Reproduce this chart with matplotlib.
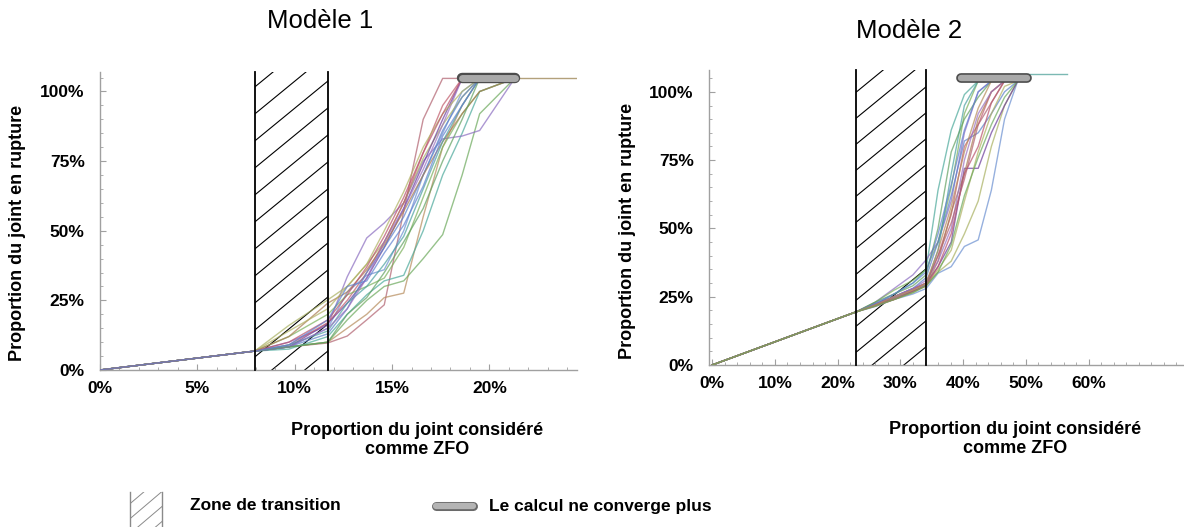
import matplotlib
matplotlib.use("Agg")
import matplotlib.pyplot as plt
from matplotlib.patches import Rectangle
from matplotlib.lines import Line2D

plt.rcParams['font.family'] = ['Liberation Sans', 'DejaVu Sans']

# ---- data -------------------------------------------------------------
titles = ["Modèle 1", "Modèle 2"]
ylabel = "Proportion du joint en rupture"
xlabel = "Proportion du joint considéré\ncomme ZFO"
legend_labels = ["Zone de transition", "Le calcul ne converge plus"]

colors = ['#b0606e', '#b58a5a', '#6aa85a', '#4aa89a', '#8a6cc0', '#6a8fd0',
          '#a8b060', '#6a3a9a', '#c05a6a', '#7ab05a', '#5a80c8', '#a87a50',
          '#4aa0a0', '#9a70c0', '#b0b060', '#60a060', '#b8506a', '#6080d0']

# Modèle 1
x1 = [0, 7.95, 9.7, 11.7, 12.7, 13.7, 14.6, 15.6, 16.6, 17.6, 18.6, 19.5, 21.3]
y1 = [
    [0, 6.8, 8.3, 9.7, 12.2, 18, 23.4, 57, 90, 104.7, 104.7, 104.7, 104.7],
    [0, 6.8, 8.3, 10, 15, 20, 26, 27.6, 55, 80, 95, 104.7, 104.7],
    [0, 6.8, 8.3, 10, 18, 25, 30, 32, 40, 48.6, 70, 92, 104.7],
    [0, 6.8, 7.5, 12, 20, 27, 32, 34, 50, 70, 85, 100, 104.7],
    [0, 6.8, 10, 16, 33.5, 47.4, 52.8, 60, 75, 83, 84, 86, 104.7],
    [0, 6.8, 8.3, 15, 28, 34, 36, 50, 70, 85, 100, 104.7, 104.7],
    [0, 6.8, 16, 25.2, 30, 38, 46, 60, 76, 88, 98, 104.7, 104.7],
    [0, 6.8, 8.3, 16.8, 24, 33, 44, 58, 74, 90, 104.7, 104.7, 104.7],
    [0, 6.8, 9, 17, 25, 35, 46, 60, 78, 95, 104.7, 104.7, 104.7],
    [0, 6.8, 12, 20, 27, 30, 33, 44, 62, 80, 92, 100, 104.7],
    [0, 6.8, 8.3, 13, 22, 35, 44, 55, 70, 86, 98, 104.7, 104.7],
    [0, 6.8, 12, 24, 28, 36, 45, 57, 70, 82, 92, 100, 104.7],
    [0, 6.8, 9, 14, 24, 30, 38, 48, 65, 82, 95, 104.7, 104.7],
    [0, 6.8, 8.3, 15, 22, 33, 46, 58, 72, 88, 104.7, 104.7, 104.7],
    [0, 6.8, 14, 22, 30, 38, 50, 64, 80, 92, 100, 104.7, 104.7],
    [0, 6.8, 8.3, 10, 20, 26, 35, 46, 58, 75, 90, 104.7, 104.7],
    [0, 6.8, 10, 18, 27, 37, 48, 62, 78, 92, 104.7, 104.7, 104.7],
    [0, 6.8, 9, 18, 30, 32, 42, 52, 66, 84, 95, 104.7, 104.7],
]
tail1_x, tail1_y = [21.3, 24.5], [104.7, 104.7]
zone1 = (7.95, 11.7)
pill1 = (18.6, 21.3, 104.7)

# Modèle 2
x2 = [0, 23, 26, 29, 32, 34.1, 36, 38.1, 40.2, 42.4, 44.5, 46.6, 48.7]
y2 = [
    [0, 19.5, 22, 26, 30, 35, 64, 86, 99, 104, 104, 104, 104],
    [0, 19.5, 23, 28, 33, 38.5, 45, 60, 85, 100, 104, 104, 104],
    [0, 19.5, 21.4, 24, 26, 28, 33.6, 36, 43.4, 45.8, 64, 90, 104],
    [0, 19.5, 22, 24, 27, 29, 34, 38, 48, 60, 80, 95, 104],
    [0, 19.5, 22.5, 25, 28, 30, 36, 45, 72, 72, 85, 95, 104],
    [0, 19.5, 22, 25, 28, 29.3, 40, 55, 80, 88, 100, 104, 104],
    [0, 19.5, 23, 27.4, 31, 35, 45, 65, 92, 104, 104, 104, 104],
    [0, 19.5, 22, 25, 28, 32, 45, 62, 82, 85, 92, 100, 104],
    [0, 19.5, 21.5, 24, 27, 29, 38, 56, 70, 90, 100, 104, 104],
    [0, 19.5, 22, 24.5, 27, 29.3, 42, 70, 95, 104, 104, 104, 104],
    [0, 19.5, 22, 25, 28, 31, 38, 50, 75, 92, 100, 104, 104],
    [0, 19.5, 21.8, 24, 26.5, 29, 35, 42, 60, 78, 92, 102, 104],
    [0, 19.5, 23, 26, 29, 33, 50, 78, 90, 98, 104, 104, 104],
    [0, 19.5, 22, 24, 27, 29, 36, 48, 70, 80, 96, 104, 104],
    [0, 19.5, 22.5, 26, 30, 34, 48, 66, 86, 100, 104, 104, 104],
    [0, 19.5, 21.8, 24.5, 27.5, 30, 40, 52, 68, 88, 96, 104, 104],
    [0, 19.5, 22, 25, 27.5, 30, 42, 58, 78, 94, 104, 104, 104],
    [0, 19.5, 21.6, 24, 26.5, 29, 34, 44, 62, 76, 88, 98, 104],
]
tail2_x, tail2_y = [48.7, 56.5], [106.5, 106.5]
zone2 = (23.0, 34.1)
pill2 = (39.7, 50.1, 105.0)

W, H = 1184, 527
fig = plt.figure(figsize=(W / 100, H / 100), dpi=100)


def px(x, y, w, h):
    return [x / W, 1 - (y + h) / H, w / W, h / H]


def hatch_zone(ax, x0, x1, ytop, spacing_px=27, slope_px=0.82,
               color='black', lw=0.8, border_lw=1.3, ybot=0):
    # vertical borders
    ax.plot([x0, x0], [ybot, ytop], color=color, lw=border_lw, zorder=4, clip_on=False)
    ax.plot([x1, x1], [ybot, ytop], color=color, lw=border_lw, zorder=4, clip_on=False)
    # diagonal hatch clipped to the zone
    bb = ax.get_position()
    xmin, xmax = ax.get_xlim()
    ymin, ymax = ax.get_ylim()
    sx = bb.width * W / (xmax - xmin)
    sy = bb.height * H / (ymax - ymin)
    k = slope_px * sx / sy
    dy = spacing_px / sy
    rect = Rectangle((x0, ybot), x1 - x0, ytop - ybot, fill=False, lw=0)
    ax.add_patch(rect)
    y = ybot - k * (x1 - x0) - dy * 0.3
    while y < ytop:
        ln, = ax.plot([x0, x1], [y, y + k * (x1 - x0)], color=color, lw=lw, zorder=1)
        ln.set_clip_path(rect)
        y += dy


def pill(ax, a, b, y, outer=7.5, inner=5):
    ax.plot([a, b], [y, y], color='#4d4d4d', lw=outer, solid_capstyle='round', zorder=6, clip_on=False)
    ax.plot([a, b], [y, y], color='#a9a9a9', lw=inner, solid_capstyle='round', zorder=7, clip_on=False)


def style(ax, xticks, yticks, xminor, yminor):
    for s in ['top', 'right']:
        ax.spines[s].set_visible(False)
    for s in ['left', 'bottom']:
        ax.spines[s].set_color('#a0a0a0')
        ax.spines[s].set_linewidth(1)
    ax.set_xticks(xticks)
    ax.set_xticklabels([f"{t}%" for t in xticks], fontweight='bold', fontsize=12.5)
    ax.set_yticks(yticks)
    ax.set_yticklabels([f"{t}%" for t in yticks], fontweight='bold', fontsize=12.5)
    ax.set_xticks(xminor, minor=True)
    ax.set_yticks(yminor, minor=True)
    ax.tick_params(which='major', direction='in', length=4, color='#a0a0a0', width=0.8)
    ax.tick_params(which='minor', direction='in', length=2.5, color='#a0a0a0', width=0.6)
    ax.tick_params(axis='x', which='major', pad=8)
    ax.tick_params(axis='y', which='major', pad=11)


# ---- Modèle 1 ---------------------------------------------------------
ax1 = fig.add_axes(px(100, 72, 477, 298))
ax1.set_xlim(0, 24.5)
ax1.set_ylim(0, 107)
style(ax1, [0, 5, 10, 15, 20], [0, 25, 50, 75, 100],
      range(0, 25), range(0, 107, 5))
for i, ys in enumerate(y1):
    ax1.plot(x1, ys, color=colors[i % len(colors)], lw=1, alpha=0.7, zorder=3)
ax1.plot(tail1_x, tail1_y, color='#a08a5a', lw=1, alpha=0.8, zorder=3)
hatch_zone(ax1, zone1[0], zone1[1], 107)
pill(ax1, *pill1)

# ---- Modèle 2 ---------------------------------------------------------
ax2 = fig.add_axes(px(709, 70, 475, 295))
ax2.set_xlim(-0.5, 75.2)
ax2.set_ylim(0, 108)
style(ax2, [0, 10, 20, 30, 40, 50, 60], [0, 25, 50, 75, 100],
      range(0, 76, 2), range(0, 108, 5))
for i, ys in enumerate(y2):
    ax2.plot(x2, ys, color=colors[(i + 3) % len(colors)], lw=1, alpha=0.7, zorder=3)
ax2.plot(tail2_x, tail2_y, color='#5aa8a0', lw=1, alpha=0.8, zorder=3)
hatch_zone(ax2, zone2[0], zone2[1], 108, spacing_px=26)
pill(ax2, *pill2, outer=7, inner=4.6)

# ---- titles and axis labels -------------------------------------------
fig.text(320 / W, 1 - 21 / H, titles[0], ha='center', va='center', fontsize=18.5)
fig.text(909 / W, 1 - 31 / H, titles[1], ha='center', va='center', fontsize=18.5)
fig.text(18 / W, 1 - 233 / H, ylabel, rotation=90, ha='center', va='center',
         fontsize=13, fontweight='bold')
fig.text(627 / W, 1 - 231 / H, ylabel, rotation=90, ha='center', va='center',
         fontsize=13, fontweight='bold')
fig.text(417 / W, 1 - 440 / H, xlabel, ha='center', va='center', fontsize=13,
         fontweight='bold', linespacing=1.15)
fig.text(1015 / W, 1 - 439 / H, xlabel, ha='center', va='center', fontsize=13,
         fontweight='bold', linespacing=1.15)

# ---- legend -----------------------------------------------------------
lax = fig.add_axes(px(126, 490, 40, 37))
lax.set_xlim(0, 40)
lax.set_ylim(37, 0)
lax.set_ylim(0, 37)
lax.axis('off')
hatch_zone(lax, 4, 36, 35, spacing_px=15, slope_px=0.85, color='#8a8a8a',
           lw=0.7, border_lw=1.0, ybot=-5)
fig.text(190 / W, 1 - 506 / H, legend_labels[0], ha='left', va='center',
         fontsize=12.5, fontweight='bold')
for lw, c in ((6.5, '#6a6a6a'), (4.5, '#b4b4b4')):
    fig.add_artist(Line2D([436 / W, 473 / W], [1 - 506 / H, 1 - 506 / H],
                          transform=fig.transFigure, color=c, lw=lw,
                          solid_capstyle='round'))
fig.text(489 / W, 1 - 506 / H, legend_labels[1], ha='left', va='center',
         fontsize=12.5, fontweight='bold')

fig.savefig("out.png", dpi=100)
